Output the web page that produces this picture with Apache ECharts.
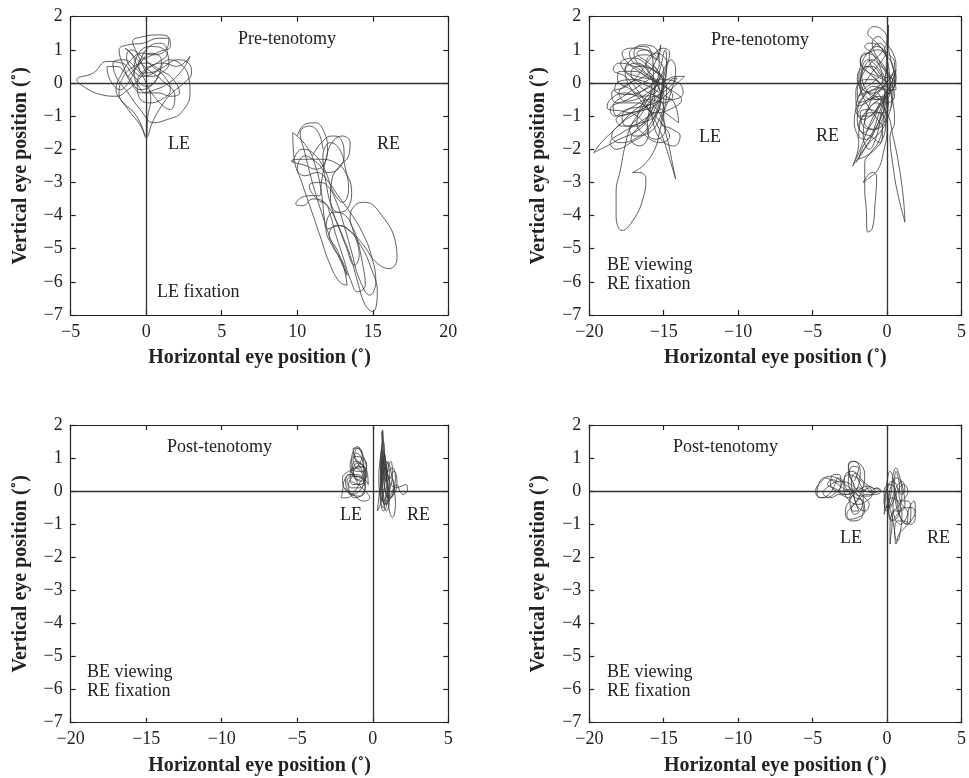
<!DOCTYPE html>
<html>
<head>
<meta charset="utf-8">
<script src="https://cdn.jsdelivr.net/npm/echarts@6/dist/echarts.min.js"></script>
<style>
html,body{margin:0;padding:0;background:#fff;}
#chart{width:969px;height:778px;}
</style>
</head>
<body>
<div id="chart"></div>
<script>
// ---- axis ranges / labels ----
const xRangeTopLeft = [-5, 20];
const xRangeOther = [-20, 5];
const yRange = [-7, 2];
const xTitle = 'Horizontal eye position (\u02DA)';
const yTitle = 'Vertical eye position (\u02DA)';

// ---- Panel 1 (top-left): Pre-tenotomy, LE fixation ----
const p1LE = [[-1.2,0.2],[-0.4,0.6],[0.3,0.9],[1.0,0.7],[0.8,0.2],[0.0,-0.1],[-0.8,0.2],[-1.6,0.6],[-2.6,0.65],[-3.5,0.3],[-4.6,0.1],[-4.0,-0.15],[-3.0,-0.35],[-2.0,-0.4],[-1.2,-0.2],[-0.5,0.1],[0.3,0.5],[1.2,0.6],[2.0,0.5],[2.9,0.8],[2.4,0.4],[1.5,0.0],[0.6,-0.2],[-0.3,-0.3],[-1.0,0.0],[-1.5,0.5],[-1.8,1.0],[-1.2,1.15],[-0.2,1.2],[0.8,1.35],[1.5,1.35],[1.6,1.1],[0.9,0.95],[0.2,0.8],[-0.5,0.6],[-0.2,0.3],[0.6,0.35],[1.5,0.7],[2.2,0.6],[2.8,0.2],[2.9,-0.3],[2.3,-0.9],[1.4,-1.1],[0.5,-1.2],[-0.4,-0.8],[-1.2,-0.3],[-2.0,0.2],[-2.2,0.6],[-1.5,0.7],[-0.6,0.4],[0.0,0.0],[0.3,-0.5],[0.1,-1.0],[0.0,-1.6],[-0.5,-1.2],[-1.2,-0.8],[-1.8,-0.3],[-1.5,0.2],[-0.8,0.5],[0.0,0.6],[0.9,0.4],[1.8,0.1],[2.2,-0.3],[1.6,-0.4],[0.8,-0.3],[0.0,-0.3],[-0.5,-0.1],[-0.8,0.3],[-0.5,0.9],[0.3,1.1],[1.2,1.0],[1.5,0.6],[1.0,0.3],[0.3,0.2],[-0.3,0.3],[-1.0,0.9],[-1.4,1.05],[-0.8,0.8],[0.0,0.45],[1.0,0.1],[1.9,-0.4],[1.6,-0.8],[0.9,-0.6],[0.2,-0.2]];
const p1LEb = [[0.0,0.3],[-0.6,0.9],[-0.9,1.25],[-0.2,1.4],[0.8,1.45],[1.5,1.35],[1.3,1.0],[0.5,0.85],[-0.3,0.9],[-1.0,0.7],[-1.6,0.3],[-2.0,-0.2],[-1.5,-0.6],[-0.8,-0.9],[-0.3,-1.3],[0.0,-1.65],[0.4,-1.2],[1.0,-0.7],[1.7,-0.3],[2.5,0.0],[3.0,0.3],[2.8,0.6],[2.1,0.7],[1.2,0.5],[0.5,0.3],[-0.2,0.2],[-0.9,0.4],[-1.3,0.8],[-1.0,1.0],[-0.3,0.8],[0.4,0.5],[1.2,0.2],[1.6,-0.2],[1.0,-0.5],[0.2,-0.6],[-0.5,-0.4],[-0.6,0.0],[-0.1,0.4],[0.7,0.6],[1.4,0.9],[1.0,1.2],[0.2,1.1],[-0.5,0.6],[-1.2,0.0],[-1.7,-0.2],[-2.4,0.1],[-2.6,0.5],[-2.0,0.5],[-1.2,0.2],[-0.4,-0.2],[0.3,-0.1],[0.8,0.2]];
const p1RE = [[10.0,-1.6],[10.5,-1.25],[11.2,-1.2],[11.8,-1.5],[12.0,-2.0],[11.7,-2.5],[11.2,-2.6],[10.6,-2.5],[9.6,-2.35],[10.5,-2.3],[11.5,-2.3],[12.5,-2.4],[13.2,-2.7],[13.6,-3.3],[13.3,-3.8],[12.7,-3.9],[12.2,-3.5],[12.3,-2.9],[12.8,-2.5],[13.4,-2.2],[13.5,-1.8],[13.0,-1.6],[12.3,-1.8],[11.9,-2.3],[11.6,-3.0],[11.5,-3.4],[11.0,-3.4],[10.3,-3.45],[9.9,-3.65],[10.4,-3.7],[11.0,-3.5],[11.8,-3.6],[12.2,-4.0],[12.5,-4.5],[13.0,-5.2],[13.5,-5.9],[14.0,-6.3],[14.5,-6.1],[14.3,-5.4],[13.9,-4.6],[13.5,-4.1],[13.8,-3.7],[14.5,-3.6],[15.6,-4.0],[16.5,-4.8],[16.6,-5.3],[16.1,-5.6],[15.2,-5.4],[14.4,-4.9],[13.6,-4.5],[12.8,-4.3],[12.0,-4.4],[11.8,-4.1],[11.6,-3.3],[11.2,-2.5],[10.6,-1.9],[9.7,-1.5],[9.8,-2.3],[10.3,-3.0],[10.9,-3.8],[11.5,-4.6],[12.1,-5.4],[12.8,-6.0],[13.3,-6.1],[13.1,-5.6],[12.6,-5.0],[12.1,-4.6],[12.6,-4.3],[13.3,-4.4],[14.2,-4.9],[14.9,-5.6],[15.3,-6.3],[15.0,-6.9],[14.5,-6.7],[14.0,-6.0],[13.5,-5.2],[12.9,-4.5],[12.3,-3.8],[11.9,-3.0],[11.7,-2.2],[12.2,-1.8],[12.8,-2.0],[13.2,-2.6],[13.4,-3.2],[13.0,-3.6],[12.4,-3.3],[11.8,-2.6],[11.0,-2.1],[10.3,-2.0],[9.7,-2.4]];
const p1REb = [[11.0,-2.2],[11.6,-1.8],[12.3,-1.6],[12.9,-1.7],[13.1,-2.2],[12.7,-2.6],[12.0,-2.7],[11.3,-2.4],[10.5,-2.2],[10.0,-2.6],[10.5,-2.8],[11.3,-2.7],[12.1,-3.0],[12.7,-3.4],[13.5,-3.9],[14.3,-4.5],[14.9,-5.2],[15.2,-6.0],[14.8,-6.4],[14.1,-5.9],[13.6,-5.1],[13.1,-4.3],[12.6,-3.6],[12.0,-3.1],[11.4,-3.0],[10.8,-3.1],[11.3,-3.5],[12.0,-3.7],[12.6,-4.2],[13.2,-4.9],[13.8,-5.5],[14.1,-5.2],[13.8,-4.6],[13.2,-4.0],[12.4,-3.9],[11.9,-4.4],[12.3,-4.9],[13.0,-5.4],[13.3,-5.8],[12.9,-5.4],[12.2,-4.7],[11.6,-3.9],[11.0,-3.0],[10.5,-2.1],[10.2,-1.5],[10.8,-1.3],[11.4,-1.5],[11.7,-2.0]];

// ---- Panel 2 (top-right): Pre-tenotomy, BE viewing RE fixation ----
const p2LEa = [[-15.5,0.0],[-16.5,0.3],[-17.4,0.6],[-17.8,0.9],[-17.2,1.05],[-16.2,1.0],[-15.5,0.7],[-15.2,1.15],[-15.6,0.6],[-16.3,0.2],[-17.3,0.0],[-18.0,-0.3],[-17.6,-0.55],[-16.6,-0.45],[-15.8,-0.2],[-14.8,0.1],[-14.0,0.2],[-13.6,0.2],[-14.3,-0.1],[-15.2,-0.5],[-16.3,-0.7],[-17.5,-0.8],[-18.3,-1.0],[-18.6,-0.8],[-17.8,-0.6],[-16.8,-0.6],[-15.8,-0.9],[-15.0,-1.3],[-14.6,-1.6],[-15.2,-1.8],[-16.2,-1.6],[-16.8,-1.2],[-16.4,-0.6],[-15.6,-0.1],[-15.0,0.4],[-14.6,0.9],[-15.0,1.05],[-15.8,0.8],[-16.6,0.3],[-17.5,-0.1],[-18.5,-0.3],[-18.2,-0.6],[-17.0,-0.4],[-16.0,-0.1],[-15.2,0.1],[-14.0,0.0],[-13.7,-0.3],[-14.5,-0.5],[-15.5,-0.4],[-16.6,-0.1],[-17.2,0.3],[-16.8,0.5],[-15.8,0.4],[-15.0,0.1],[-15.4,-0.6],[-16.2,-1.2],[-17.0,-1.5],[-18.0,-1.7],[-18.8,-1.9],[-19.7,-2.1],[-19.2,-1.8],[-18.3,-1.4],[-17.4,-1.0],[-16.6,-0.7],[-15.6,-0.4],[-15.0,-0.8],[-15.2,-1.2],[-14.4,-1.4],[-13.9,-1.6],[-14.3,-1.9],[-15.2,-1.7],[-15.7,-1.2],[-15.9,-0.5],[-15.7,0.3],[-15.9,1.0],[-16.5,1.1],[-17.3,0.9],[-17.0,0.6],[-16.2,0.5],[-15.4,0.3],[-14.8,-0.2],[-15.0,-0.9],[-15.3,-1.5],[-15.6,-2.0],[-16.4,-2.5],[-17.1,-2.7],[-16.6,-2.7],[-16.2,-2.9],[-16.4,-3.5],[-17.0,-4.1],[-17.8,-4.45],[-18.2,-4.0],[-18.2,-3.3],[-17.9,-2.6],[-17.6,-1.9],[-17.2,-1.3],[-16.5,-0.8],[-15.8,-0.3],[-15.3,0.2],[-15.8,0.6]];
const p2LEb = [[-15.8,-0.6],[-16.8,-0.9],[-17.8,-1.2],[-18.5,-1.6],[-18.0,-1.8],[-17.0,-1.7],[-16.0,-1.3],[-15.3,-0.6],[-15.0,0.2],[-14.5,0.7],[-14.2,0.4],[-14.6,-0.4],[-15.0,-1.0],[-14.6,-2.0],[-14.2,-2.9],[-14.6,-2.3],[-15.2,-1.5],[-16.0,-0.8],[-16.8,-0.2],[-17.6,0.2],[-18.4,0.4],[-18.0,0.6],[-17.0,0.5],[-16.0,0.2],[-15.3,0.0],[-15.6,-0.3],[-16.6,-0.4],[-17.6,-0.3],[-18.6,-0.5],[-18.8,-0.75],[-17.8,-0.85],[-16.8,-1.0],[-16.0,-1.5],[-16.6,-1.9],[-17.2,-1.7],[-16.2,-1.1],[-15.4,-0.5],[-15.0,0.0],[-14.8,0.6],[-15.5,0.9],[-16.2,0.6],[-15.6,0.1],[-15.1,-0.3],[-14.3,-0.6],[-14.0,-1.2],[-14.6,-1.0],[-15.4,-0.7]];
const p2LEc = [[-16.0,0.0],[-17.0,0.1],[-18.0,0.05],[-18.3,-0.2],[-17.5,-0.35],[-16.5,-0.25],[-15.6,0.0],[-15.0,0.35],[-15.4,0.7],[-16.3,0.85],[-17.2,0.7],[-17.6,0.4],[-16.8,0.2],[-15.8,0.1],[-14.9,-0.1],[-14.4,-0.4],[-15.0,-0.6],[-16.0,-0.5],[-17.0,-0.7],[-17.8,-1.0],[-17.5,-1.3],[-16.5,-1.2],[-15.6,-1.0],[-15.2,-0.5],[-15.5,0.0],[-16.4,0.4],[-17.0,0.9],[-16.5,1.15],[-15.7,1.1],[-15.3,0.6],[-15.8,0.2],[-16.7,-0.1],[-17.7,-0.4],[-18.4,-0.7],[-18.1,-1.0],[-17.1,-0.9],[-16.1,-0.7],[-15.2,-0.3],[-14.5,0.1],[-14.1,0.15],[-14.8,-0.2],[-15.8,-0.5],[-16.6,-1.0],[-17.3,-1.4],[-17.0,-1.6],[-16.0,-1.5],[-15.3,-1.1],[-15.0,-0.5],[-15.6,-0.2],[-16.5,0.0],[-17.5,0.3],[-17.9,0.6],[-17.0,0.75],[-16.0,0.5],[-15.2,0.2]];
const p2LEd = [[-15.2,-0.8],[-16.0,-1.0],[-17.0,-1.3],[-17.8,-1.5],[-18.6,-1.8],[-18.2,-2.0],[-17.2,-1.8],[-16.2,-1.5],[-15.5,-1.0],[-15.1,-0.3],[-14.8,0.5],[-14.9,1.0],[-15.2,0.5],[-15.6,-0.2],[-16.0,-0.9],[-16.1,-1.5],[-15.5,-1.7],[-14.9,-1.4],[-15.3,-0.9],[-16.2,-0.5],[-17.2,-0.2],[-18.1,0.1],[-18.0,0.35],[-17.0,0.35],[-16.0,0.15],[-15.0,-0.1],[-14.2,-0.3],[-13.8,-0.5],[-14.6,-0.8],[-15.6,-0.9],[-16.6,-0.5],[-17.4,0.0],[-17.6,0.4],[-16.8,0.6],[-16.0,0.3],[-15.6,-0.3],[-16.0,-1.0],[-16.8,-1.3],[-17.8,-1.3],[-18.2,-1.1],[-17.2,-0.9],[-16.2,-0.8],[-15.4,-0.6],[-15.0,-0.2],[-15.3,0.3],[-16.0,0.6],[-16.8,0.9],[-16.2,1.0],[-15.5,0.8]];
const p2REa = [[-0.5,0.0],[-1.2,0.3],[-1.8,0.6],[-1.5,0.9],[-0.8,0.8],[-0.2,0.4],[0.3,0.0],[0.5,-0.4],[0.0,-0.6],[-0.8,-0.4],[-1.6,-0.2],[-2.0,0.1],[-1.8,0.4],[-1.0,0.5],[-0.3,0.2],[0.4,0.1],[0.6,-0.2],[0.0,-0.2],[-0.9,-0.1],[-1.7,-0.5],[-2.0,-0.9],[-1.6,-1.1],[-0.9,-0.9],[-0.3,-0.6],[0.2,-0.3],[0.1,0.5],[-0.3,1.0],[-0.9,1.3],[-1.3,1.5],[-0.9,1.7],[-0.3,1.6],[0.0,1.3],[-0.4,0.9],[-1.1,0.6],[-1.7,0.2],[-2.1,-0.3],[-2.0,-0.7],[-1.4,-0.6],[-0.6,-0.3],[0.1,0.1],[0.6,0.3],[0.5,-0.1],[-0.2,-0.4],[-1.1,-0.7],[-1.8,-1.2],[-1.9,-1.6],[-1.4,-1.7],[-0.7,-1.3],[-0.2,-0.8],[0.0,-0.2],[-0.4,0.4],[-1.0,0.9],[-1.5,1.1],[-1.2,1.2],[-0.5,1.1],[0.0,0.7],[-0.1,0.2],[-0.6,-0.1],[-1.3,-0.3],[-1.9,-0.6],[-2.2,-1.2],[-1.9,-1.8],[-2.3,-2.5],[-1.8,-2.0],[-1.3,-1.4],[-0.8,-0.9],[-0.3,-0.5],[0.2,-0.3],[0.6,0.1],[0.3,0.6],[0.1,1.2],[0.1,1.75],[0.0,1.0],[-0.1,0.2],[-0.2,-0.6],[-0.3,-1.3],[-0.6,-1.8],[-1.1,-2.1],[-1.5,-2.4],[-1.5,-3.2],[-1.4,-3.8],[-1.3,-4.5],[-1.0,-4.4],[-0.8,-3.6],[-0.7,-2.8],[-1.0,-2.7],[-1.6,-3.0],[-1.3,-2.9],[-0.6,-2.6],[-0.2,-2.0],[0.0,-1.4],[-0.2,-0.7],[-0.6,-0.3]];
const p2REb = [[-0.3,0.3],[-1.0,0.0],[-1.6,-0.2],[-1.9,-0.4],[-1.5,-0.3],[-0.8,-0.2],[-0.1,-0.1],[0.4,-0.6],[0.5,-1.2],[0.2,-1.6],[0.4,-2.5],[0.7,-3.3],[1.2,-4.2],[1.1,-3.5],[0.8,-2.5],[0.4,-1.6],[0.0,-0.9],[-0.7,-0.6],[-1.4,-0.9],[-1.9,-1.3],[-1.6,-1.5],[-1.0,-1.2],[-0.5,-0.7],[0.0,-0.4],[0.5,0.0],[0.4,0.5],[0.0,0.8],[-0.6,1.0],[-1.3,0.9],[-1.8,0.7],[-1.5,0.4],[-0.7,0.2],[0.0,0.0],[0.3,-0.5],[0.0,-1.1],[-0.5,-1.5],[-1.2,-1.8],[-1.8,-2.2],[-2.1,-2.4],[-1.7,-2.1],[-1.0,-1.6],[-0.4,-1.0],[0.0,-0.6],[-0.3,-0.1],[-1.0,0.2]];
const p2REc = [[-0.6,0.2],[-1.3,0.5],[-1.8,0.2],[-1.6,-0.2],[-0.9,-0.3],[-0.3,-0.1],[0.3,0.2],[0.5,0.6],[0.0,0.9],[-0.7,1.1],[-1.2,0.8],[-0.9,0.4],[-0.2,0.1],[0.4,-0.2],[0.3,-0.7],[-0.4,-0.9],[-1.2,-0.8],[-1.8,-0.9],[-1.6,-1.3],[-0.9,-1.4],[-0.3,-1.1],[0.1,-0.6],[-0.3,-0.2],[-1.0,-0.4],[-1.7,-0.7],[-2.0,-1.1],[-1.7,-1.5],[-1.1,-1.6],[-0.5,-1.8],[-0.3,-1.4],[-0.8,-1.0],[-1.4,-0.6],[-1.8,-0.1],[-1.5,0.5],[-1.0,0.7],[-0.4,0.5],[0.1,0.3],[0.4,0.0],[-0.1,-0.3],[-0.8,-0.5],[-1.5,-0.4],[-1.9,0.1],[-1.7,0.6],[-1.1,1.0],[-0.5,1.2],[-0.1,0.9],[-0.5,0.6],[-1.2,0.2],[-1.8,-0.3],[-2.1,-0.8],[-1.8,-1.0],[-1.2,-1.0],[-0.6,-0.7],[-0.1,-0.3],[0.4,0.1],[0.6,0.4],[0.2,0.2]];
const p2REd = [[-0.2,-0.2],[-0.9,0.1],[-1.5,0.1],[-2.0,-0.2],[-1.9,-0.6],[-1.2,-0.5],[-0.5,-0.4],[0.0,-0.7],[-0.2,-1.2],[-0.9,-1.4],[-1.5,-1.2],[-1.2,-0.9],[-0.6,-0.9],[-0.1,-1.2],[-0.3,-1.7],[-0.8,-2.0],[-1.4,-2.2],[-1.9,-2.3],[-1.6,-1.9],[-1.0,-1.5],[-0.6,-1.0],[-0.2,-0.5],[0.3,0.0],[0.6,0.5],[0.4,0.9],[-0.1,1.2],[-0.6,1.4],[-1.0,1.2],[-0.7,0.8],[-0.2,0.5],[0.2,0.0],[0.0,-0.4],[-0.6,-0.5],[-1.4,-0.2],[-1.7,0.3],[-1.3,0.7],[-0.7,0.5],[-0.3,0.1],[-0.7,-0.2],[-1.3,-0.8],[-1.6,-1.6],[-1.2,-2.0],[-0.7,-1.6],[-0.4,-0.9],[-0.1,-0.4]];

// ---- Panel 3 (bottom-left): Post-tenotomy ----
const p3LE = [[-1.0,0.4],[-1.5,0.5],[-1.9,0.3],[-2.0,0.0],[-2.1,-0.2],[-1.7,-0.2],[-1.2,0.0],[-0.8,0.3],[-0.5,0.5],[-0.7,0.8],[-1.1,0.9],[-1.4,0.7],[-1.2,0.4],[-0.7,0.3],[-0.4,0.5],[-0.5,0.9],[-0.8,1.2],[-1.0,1.35],[-1.3,1.2],[-1.4,0.9],[-1.1,0.6],[-0.6,0.6],[-0.4,0.8],[-0.7,1.0],[-1.2,1.05],[-1.5,0.8],[-1.3,0.5],[-0.8,0.4],[-0.5,0.2],[-0.7,-0.1],[-1.2,-0.2],[-1.6,0.0],[-1.8,0.3],[-1.6,0.5],[-1.1,0.5],[-0.6,0.4],[-0.3,0.2],[-0.4,0.6],[-0.9,0.75],[-1.3,0.6],[-1.0,0.25],[-0.5,0.0],[-0.2,-0.2],[-0.6,-0.3],[-1.3,-0.1],[-1.9,0.1],[-2.0,0.4],[-1.6,0.6],[-1.1,0.7],[-0.7,1.1],[-0.9,1.3],[-1.3,1.3],[-1.2,1.0],[-0.8,0.7],[-0.5,0.35],[-0.9,0.2],[-1.4,0.3]];
const p3LEb = [[-1.2,0.5],[-1.6,0.2],[-1.4,-0.1],[-0.9,0.0],[-0.6,0.3],[-0.8,0.6],[-1.2,0.7],[-1.5,0.5],[-1.3,0.2],[-0.8,0.2],[-0.5,0.45],[-0.6,0.75],[-1.0,0.85],[-1.3,0.65],[-1.0,0.35],[-0.6,0.55],[-0.7,0.95],[-1.1,1.15],[-1.3,0.95],[-1.0,0.7],[-0.6,0.8],[-0.7,1.15],[-1.0,1.3],[-1.2,1.1],[-0.9,0.85],[-0.5,0.7],[-0.5,0.3],[-0.9,0.1],[-1.4,0.1],[-1.7,0.3],[-1.4,0.45],[-0.9,0.45],[-0.5,0.15],[-0.8,-0.15],[-1.5,-0.1],[-1.8,0.1]];
const p3RE = [[0.6,0.2],[0.5,0.8],[0.6,1.4],[0.65,1.85],[0.75,1.3],[0.9,0.7],[1.1,0.2],[1.0,-0.3],[0.7,-0.6],[0.5,-0.2],[0.4,0.4],[0.5,1.0],[0.7,1.5],[0.8,1.0],[1.0,0.6],[1.3,0.7],[1.5,0.4],[1.3,0.0],[1.0,-0.2],[0.8,0.1],[0.7,0.6],[0.6,1.1],[0.55,0.5],[0.4,-0.2],[0.3,-0.6],[0.5,-0.4],[0.8,0.2],[1.0,0.9],[1.2,0.6],[1.4,0.1],[1.5,-0.4],[1.3,-0.8],[1.1,-0.6],[1.0,-0.1],[0.9,0.5],[0.7,1.2],[0.6,0.7],[0.6,0.0],[0.8,-0.4],[1.2,-0.2],[1.6,0.2],[1.8,0.0],[2.0,-0.1],[2.3,0.05],[2.2,0.2],[1.9,0.15],[1.5,0.1],[1.1,0.3],[0.8,0.7],[0.6,0.3],[0.5,0.0],[0.7,-0.3],[1.0,0.0],[1.1,0.5],[0.9,0.9],[0.7,0.5]];
const p3REb = [[0.8,0.3],[0.7,0.9],[0.65,1.5],[0.6,1.8],[0.7,1.2],[0.9,0.5],[1.0,0.0],[0.8,-0.4],[0.6,0.0],[0.55,0.7],[0.6,1.3],[0.75,0.8],[0.9,0.3],[1.2,0.4],[1.4,0.2],[1.2,-0.2],[0.9,-0.1],[0.7,0.4],[0.6,0.9],[0.5,0.4],[0.5,-0.3],[0.7,-0.5],[0.9,0.1],[1.0,0.7],[1.2,0.9],[1.3,0.5],[1.1,0.0],[0.9,-0.4],[0.7,-0.1],[0.6,0.6],[0.7,1.0],[0.8,0.6],[1.0,0.2],[1.1,-0.3],[0.9,-0.6],[0.7,-0.3],[0.65,0.4],[0.8,1.1],[0.9,0.7],[1.1,0.4],[1.4,0.6],[1.6,0.3],[1.4,-0.1],[1.0,-0.2]];

// ---- Panel 4 (bottom-right): Post-tenotomy ----
const p4LE = [[-2.5,0.0],[-3.0,0.1],[-3.6,0.3],[-4.2,0.4],[-4.6,0.2],[-4.7,-0.1],[-4.2,-0.2],[-3.6,-0.1],[-3.1,0.2],[-3.2,0.5],[-3.6,0.5],[-3.8,0.2],[-3.4,0.0],[-2.8,-0.1],[-2.2,0.1],[-2.5,0.5],[-2.6,0.8],[-2.2,0.9],[-1.8,0.6],[-1.9,0.2],[-2.4,-0.2],[-2.8,-0.6],[-2.6,-0.85],[-2.0,-0.8],[-1.5,-0.6],[-1.6,-0.3],[-2.1,-0.2],[-2.6,0.0],[-2.9,0.3],[-2.6,0.5],[-2.0,0.4],[-1.5,0.2],[-1.1,0.0],[-0.7,0.1],[-0.4,0.0],[-0.8,-0.1],[-1.4,-0.1],[-2.0,-0.3],[-2.4,-0.5],[-2.2,-0.7],[-1.7,-0.5],[-1.6,-0.1],[-1.9,0.3],[-2.3,0.6],[-2.8,0.5],[-2.9,0.1],[-2.5,-0.3],[-1.9,-0.4],[-1.4,-0.3],[-1.0,-0.1],[-1.2,0.1],[-1.8,0.0],[-2.4,0.2],[-3.2,0.3],[-3.9,0.15],[-4.3,-0.05],[-3.8,-0.2],[-3.2,-0.1],[-2.6,-0.2],[-2.0,0.0],[-1.3,0.15],[-0.8,0.0],[-1.3,-0.15],[-2.1,-0.1],[-2.6,0.3],[-2.3,0.75],[-1.9,0.7],[-2.2,0.3]];
const p4LEb = [[-2.2,0.2],[-2.6,0.6],[-2.4,0.9],[-1.9,0.85],[-1.5,0.5],[-1.7,0.0],[-2.2,-0.4],[-2.7,-0.7],[-2.4,-0.9],[-1.8,-0.85],[-1.6,-0.5],[-2.0,-0.1],[-2.8,0.2],[-3.4,0.4],[-3.9,0.45],[-4.4,0.3],[-4.8,0.0],[-4.5,-0.2],[-3.9,-0.1],[-3.5,0.2],[-3.3,0.4],[-3.0,0.3],[-3.2,0.0],[-2.6,-0.1],[-1.9,0.1],[-1.4,0.0],[-0.9,-0.05],[-0.5,0.05],[-1.0,0.1],[-1.6,0.3],[-2.1,0.55],[-2.4,0.3],[-2.2,-0.2],[-1.9,-0.6],[-2.3,-0.6],[-2.5,-0.2],[-2.1,0.0],[-1.5,-0.2],[-1.2,-0.4],[-1.5,-0.6],[-2.0,-0.45],[-2.5,0.05],[-3.0,0.0],[-3.6,0.1],[-4.0,0.2],[-3.7,0.35],[-3.2,0.25]];
const p4RE = [[0.2,0.0],[0.0,-0.4],[-0.2,-0.7],[-0.1,-0.2],[0.0,0.3],[0.2,0.6],[0.4,0.4],[0.5,0.0],[0.8,-0.3],[1.2,-0.2],[1.4,0.0],[1.1,0.2],[0.7,0.0],[0.4,-0.4],[0.5,-0.8],[0.9,-1.0],[1.3,-0.8],[1.5,-0.5],[1.8,-0.3],[1.9,-0.6],[1.6,-0.9],[1.2,-1.1],[0.8,-1.3],[0.6,-1.6],[0.5,-1.2],[0.3,-0.7],[0.1,-0.3],[0.3,0.2],[0.6,0.4],[0.9,0.3],[1.0,-0.1],[0.7,-0.5],[0.4,-0.6],[0.2,-1.0],[0.2,-1.6],[0.3,-1.2],[0.5,-0.6],[0.9,-0.6],[1.2,-0.4],[1.1,0.0],[0.8,0.5],[0.6,0.7],[0.4,0.5],[0.3,0.0],[0.1,-0.5],[0.4,-0.9],[0.8,-0.7],[1.0,-0.3],[1.4,-0.3],[1.6,-0.6],[1.4,-1.0],[1.0,-0.9],[0.7,-0.4],[0.5,0.1],[0.2,0.2],[-0.2,0.0],[-0.1,-0.5],[0.3,-0.4]];
const p4REb = [[0.5,-0.2],[0.2,-0.5],[0.0,-0.2],[0.1,0.2],[0.4,0.3],[0.7,0.1],[0.9,-0.3],[1.3,-0.5],[1.7,-0.5],[1.9,-0.8],[1.6,-1.0],[1.1,-0.9],[0.7,-0.9],[0.5,-1.3],[0.7,-1.5],[0.9,-1.2],[1.0,-0.7],[0.7,-0.3],[0.3,-0.2],[0.1,-0.6],[0.3,-0.9],[0.7,-0.7],[1.1,-0.5],[1.4,-0.7],[1.3,-1.0],[0.9,-0.8],[0.6,-0.4],[0.5,0.2],[0.6,0.6],[0.8,0.3],[0.9,-0.1],[1.2,0.0],[1.0,0.3],[0.6,0.1],[0.3,-0.3],[0.0,-0.6],[-0.2,-0.3],[0.0,0.1]];

// ---- annotations ----
const notes = [
  ['Pre-tenotomy', 238, 30], ['LE', 168, 135], ['RE', 377, 135], ['LE fixation', 157, 283],
  ['Pre-tenotomy', 711, 31], ['LE', 699, 128], ['RE', 816, 127], ['BE viewing', 607, 256], ['RE fixation', 607, 275],
  ['Post-tenotomy', 167, 438], ['LE', 340, 506], ['RE', 407, 506], ['BE viewing', 87, 663], ['RE fixation', 87, 682],
  ['Post-tenotomy', 673, 438], ['LE', 840, 529], ['RE', 927, 529], ['BE viewing', 607, 663], ['RE fixation', 607, 682]
];

const SERIF = '"Liberation Serif","Times New Roman",serif';
const panels = [
  {grid:{left:70.7, top:16.7, width:377.6, height:298.3}, xr:xRangeTopLeft, traces:[p1LE, p1LEb, p1RE, p1REb]},
  {grid:{left:589.3, top:16.7, width:378, height:298.3}, xr:xRangeOther, traces:[p2LEa, p2LEb, p2LEc, p2LEd, p2REa, p2REb, p2REc, p2REd]},
  {grid:{left:70.7, top:425, width:377.6, height:297.7}, xr:xRangeOther, traces:[p3LE, p3LEb, p3RE, p3REb]},
  {grid:{left:589.3, top:425, width:378, height:297.7}, xr:xRangeOther, traces:[p4LE, p4LEb, p4RE, p4REb]}
];

const fmt = v => (v < 0 ? '\u2212' + Math.abs(v) : String(v));
const axisLine = {show:true, onZero:false, lineStyle:{color:'#222', width:1.2}};
const tick = {show:true, inside:true, length:5, lineStyle:{color:'#222', width:1.2}};
const label = {color:'#222', fontFamily:SERIF, fontSize:18, formatter:fmt, margin:8};

const grids = [], xAxes = [], yAxes = [], series = [];
panels.forEach((p, g) => {
  grids.push(Object.assign({containLabel:false}, p.grid));
  xAxes.push({type:'value', gridIndex:g, position:'bottom', min:p.xr[0], max:p.xr[1], interval:5,
    axisLine, axisTick:tick, axisLabel:label, splitLine:{show:false},
    name:xTitle, nameLocation:'middle', nameGap:33,
    nameTextStyle:{fontFamily:SERIF, fontWeight:'bold', fontSize:20, color:'#222'}});
  xAxes.push({type:'value', gridIndex:g, position:'top', min:p.xr[0], max:p.xr[1], interval:5,
    axisLine, axisTick:tick, axisLabel:{show:false}, splitLine:{show:false}});
  yAxes.push({type:'value', gridIndex:g, position:'left', min:yRange[0], max:yRange[1], interval:1,
    axisLine, axisTick:tick, axisLabel:label, splitLine:{show:false},
    name:yTitle, nameLocation:'middle', nameGap:40,
    nameTextStyle:{fontFamily:SERIF, fontWeight:'bold', fontSize:20, color:'#222'}});
  yAxes.push({type:'value', gridIndex:g, position:'right', min:yRange[0], max:yRange[1], interval:1,
    axisLine, axisTick:tick, axisLabel:{show:false}, splitLine:{show:false}});
  p.traces.forEach((t, i) => {
    const s = {type:'line', xAxisIndex:2*g, yAxisIndex:2*g, data:t, showSymbol:false, symbol:'none',
      smooth:0.45, silent:true, lineStyle:{color:'#3a3a3a', width:0.9, opacity:0.9}, z:2};
    if (i === 0) {
      s.markLine = {silent:true, symbol:'none', label:{show:false}, animation:false,
        lineStyle:{color:'#333', width:1.3, type:'solid'},
        data:[{xAxis:0}, {yAxis:0}]};
    }
    series.push(s);
  });
});

const graphic = notes.map(n => ({type:'text', left:n[1], top:n[2], silent:true,
  style:{text:n[0], font:'18px ' + SERIF, fill:'#222'}}));

const chart = echarts.init(document.getElementById('chart'), null, {renderer:'canvas'});
chart.setOption({animation:false, backgroundColor:'#fff', grid:grids, xAxis:xAxes, yAxis:yAxes, series, graphic});
</script>
</body>
</html>
